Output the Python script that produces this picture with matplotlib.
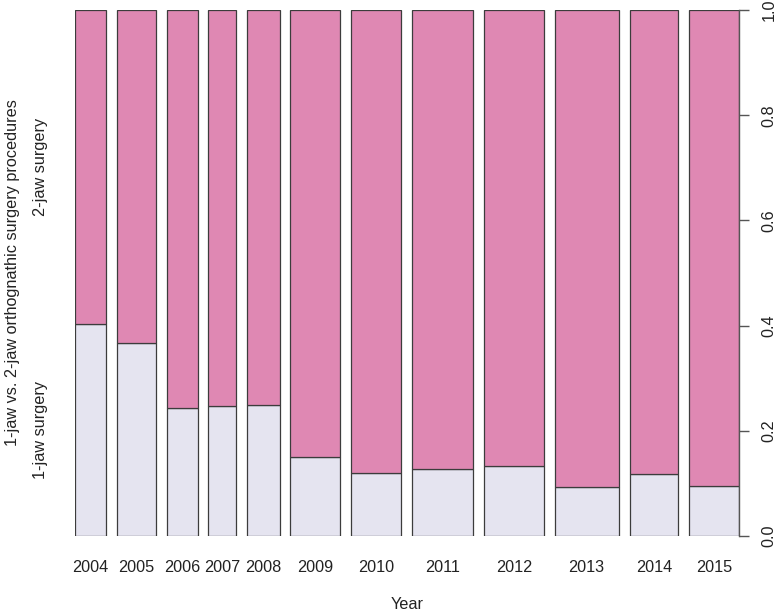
import matplotlib
matplotlib.use("Agg")
import matplotlib.pyplot as plt
import numpy as np

plt.rcParams['font.family'] = ['Liberation Sans', 'DejaVu Sans']

years = ['2004', '2005', '2006', '2007', '2008', '2009', '2010', '2011', '2012', '2013', '2014', '2015']
totals = [56, 72, 57, 51, 60, 91, 92, 113, 110, 118, 90, 91]
one_jaw_share = [0.403, 0.367, 0.243, 0.248, 0.250, 0.150, 0.120, 0.127, 0.133, 0.093, 0.118, 0.096]
categories = ['1-jaw surgery', '2-jaw surgery']
y_ticks = [0.0, 0.2, 0.4, 0.6, 0.8, 1.0]

col_1jaw = '#e5e4f0'
col_2jaw = '#df88b3'
edge = '#3c3c3c'
fs = 11.7

off = 0.02
props = np.array(totals, dtype=float) / np.sum(totals)
lefts = np.concatenate([[0], np.cumsum(props + off)[:-1]])
share = np.array(one_jaw_share)

fig = plt.figure(figsize=(7.76, 6.12), dpi=100)
ax = fig.add_axes([75.3 / 776, 1 - 536 / 612, 663.4 / 776, 526 / 612])

ax.bar(lefts, share, width=props, align='edge', color=col_1jaw, edgecolor=edge, linewidth=0.9)
ax.bar(lefts, 1 - share, bottom=share, width=props, align='edge', color=col_2jaw, edgecolor=edge, linewidth=0.9)

ax.set_xlim(0, 1 + off * (len(years) - 1))
ax.set_ylim(0, 1)

for s in ['left', 'top', 'bottom']:
    ax.spines[s].set_visible(False)
ax.spines['right'].set_color('#555555')
ax.spines['right'].set_linewidth(1.0)

ax.yaxis.tick_right()
ax.set_yticks(y_ticks)
ax.set_yticklabels([f'{v:.1f}' for v in y_ticks])
ax.tick_params(axis='y', length=7.5, width=1.0, color='#555555', labelsize=fs, pad=9, labelcolor='#222222')
for lab in ax.get_yticklabels():
    lab.set_rotation(90)
    lab.set_va('center')
    lab.set_ha('left')

ax.set_xticks(lefts + props / 2)
ax.set_xticklabels(years)
ax.tick_params(axis='x', length=0, labelsize=fs, pad=17.5, labelcolor='#222222')

# category labels on the left, at the middle of the first bar's segments
ytr = ax.get_yaxis_transform()
ax.text(-0.052, share[0] / 2, categories[0], rotation=90, ha='center', va='center', fontsize=fs, color='#222222', transform=ytr)
ax.text(-0.052, share[0] + (1 - share[0]) / 2, categories[1], rotation=90, ha='center', va='center', fontsize=fs, color='#222222', transform=ytr)

ax.text(-0.095, 0.5, '1-jaw vs. 2-jaw orthognathic surgery procedures', rotation=90, ha='center', va='center',
        fontsize=fs, color='#222222', transform=ax.transAxes)
ax.text(0.5, -0.131, 'Year', ha='center', va='center', fontsize=fs, color='#222222', transform=ax.transAxes)

fig.savefig('out.png', dpi=100)
